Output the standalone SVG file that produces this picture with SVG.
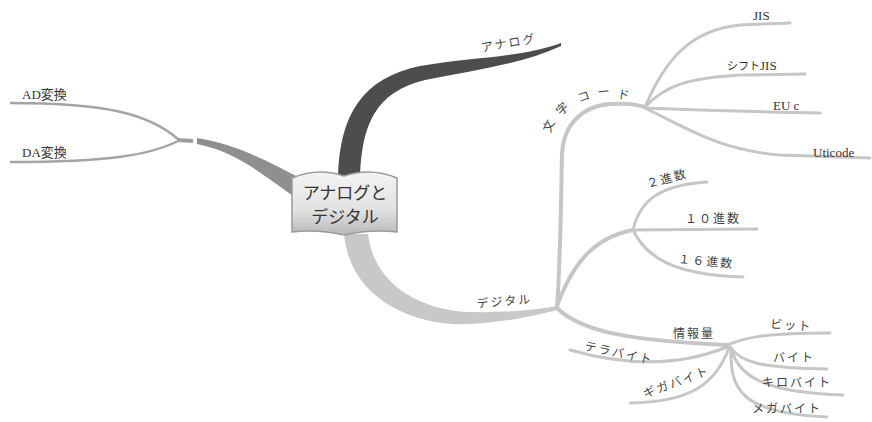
<svg xmlns="http://www.w3.org/2000/svg" width="872" height="422" viewBox="0 0 872 422">
<defs>
<linearGradient id="nodeFill" x1="0" y1="0" x2="0" y2="1">
<stop offset="0" stop-color="#f4f4f4"/>
<stop offset="0.6" stop-color="#e2e2e2"/>
<stop offset="1" stop-color="#b8b8b8"/>
</linearGradient>
</defs>
<style>
.t{font-family:"Liberation Serif","Noto Sans CJK JP",serif;fill:#333;font-size:13px}
.j{font-family:"Noto Sans CJK JP","Liberation Sans",sans-serif;fill:#444;font-size:12px;letter-spacing:2px}
.thin{fill:none;stroke:#c6c6c6;stroke-linecap:round}
.leaf{stroke-width:3}
.sub{stroke-width:4}
</style>
<rect width="872" height="422" fill="#ffffff"/>
<g id="connectors">
<path d="M338,176 C340,115 362,78 420,66 C470,57 520,58 561,43 L561,46 C522,64 475,70 425,80 C375,92 362,125 360,176 Z" fill="#4d4d4d"/>
<path d="M300,178 C270,163 240,145 197,138 L197,144 C238,152 265,177 296,198 Z" fill="#8f8f8f"/>
<path d="M193,141 L177,140" fill="none" stroke="#9c9c9c" stroke-width="4"/>
<path d="M178,139 C150,115 110,103 10,103" fill="none" stroke="#a4a4a4" stroke-width="2.5"/>
<path d="M178,141 C150,155 110,162 10,162" fill="none" stroke="#a4a4a4" stroke-width="2.5"/>
<path d="M344,234 C350,300 415,327 470,324 C510,322 540,314 558,310 L558,306 C540,309 510,313 470,312 C428,311 375,290 368,234 Z" fill="#c8c8c8"/>
<path class="thin sub" d="M557,308 C561,250 561,190 562,155 C563,125 582,106 610,104 C625,103 635,104 645,107"/>
<path class="thin leaf" d="M645,107 C665,60 690,30 740,25 L790,23"/>
<path class="thin leaf" d="M645,107 C665,85 690,78 740,75 L805,74"/>
<path class="thin leaf" d="M645,108 C700,110 760,112 820,113"/>
<path class="thin leaf" d="M645,108 C690,130 720,150 780,155 L870,158"/>
<path class="thin sub" d="M557,306 C570,270 590,238 633,230"/>
<path class="thin leaf" d="M633,230 C640,200 660,185 707,182"/>
<path class="thin leaf" d="M633,230 L757,229"/>
<path class="thin leaf" d="M633,230 C645,255 670,275 743,277"/>
<path class="thin sub" d="M557,308 C580,330 620,340 727,345"/>
<path class="thin leaf" d="M727,345 C745,338 760,333 830,333"/>
<path class="thin leaf" d="M730,347 C740,362 760,368 827,369"/>
<path class="thin leaf" d="M731,348 C738,375 760,392 843,395"/>
<path class="thin leaf" d="M731,348 C730,390 740,413 827,417"/>
<path class="thin leaf" d="M727,347 C690,362 640,370 570,350"/>
<path class="thin leaf" d="M729,348 C715,385 690,402 630,403"/>
</g>
<g id="root">
<path d="M292,178 Q318,167 344,176 Q371,167 397,178 L397,232 Q371,229 344,235 Q318,229 292,232 Z" fill="url(#nodeFill)" stroke="#9a9a9a" stroke-width="1.5"/>
<text x="345" y="199" text-anchor="middle" font-family="'Noto Sans CJK JP',sans-serif" font-size="17" fill="#333">アナログと</text>
<text x="345" y="223" text-anchor="middle" font-family="'Noto Sans CJK JP',sans-serif" font-size="17" fill="#333">デジタル</text>
</g>
<g id="analog"><text class="j" font-size="14" transform="translate(482,52) rotate(-10)">アナログ</text></g>
<g id="ad"><text class="t" x="22" y="99">AD変換</text></g>
<g id="da"><text class="t" x="22" y="157">DA変換</text></g>
<g id="digital"><text class="j" font-size="13" transform="translate(477,308) rotate(-5)">デジタル</text></g>
<g id="moji">
<text class="j" font-size="14" text-anchor="middle" transform="translate(553,127) rotate(-65)">文</text>
<text class="j" font-size="14" text-anchor="middle" transform="translate(566,111) rotate(-45)">字</text>
<text class="j" font-size="14" text-anchor="middle" transform="translate(586,100) rotate(-20)">コ</text>
<text class="j" font-size="14" text-anchor="middle" transform="translate(605,96) rotate(-5)">ー</text>
<text class="j" font-size="14" text-anchor="middle" transform="translate(624,99) rotate(8)">ド</text>
</g>
<g id="jis"><text class="t" x="753" y="20">JIS</text></g>
<g id="sjis"><text class="t" x="727" y="70"><tspan font-family="'Noto Sans CJK JP',sans-serif" font-size="11">シフト</tspan>JIS</text></g>
<g id="euc"><text class="t" x="773" y="110">EU c</text></g>
<g id="unicode"><text class="t" x="813" y="157">Uticode</text></g>
<g id="bin"><text class="j" transform="translate(648,188) rotate(-15)">２進数</text></g>
<g id="dec"><text class="j" x="685" y="223">１０進数</text></g>
<g id="hex"><text class="j" transform="translate(678,263) rotate(5)">１６進数</text></g>
<g id="info"><text class="j" x="673" y="338" letter-spacing="0">情報量</text></g>
<g id="bit"><text class="j" transform="translate(770,328) rotate(4)">ビット</text></g>
<g id="byte"><text class="j" x="773" y="362">バイト</text></g>
<g id="kilo"><text class="j" x="762" y="387">キロバイト</text></g>
<g id="mega"><text class="j" x="752" y="413">メガバイト</text></g>
<g id="tera"><text class="j" transform="translate(584,350) rotate(12)">テラバイト</text></g>
<g id="giga"><text class="j" transform="translate(645,398) rotate(-20)">ギガバイト</text></g>
</svg>
